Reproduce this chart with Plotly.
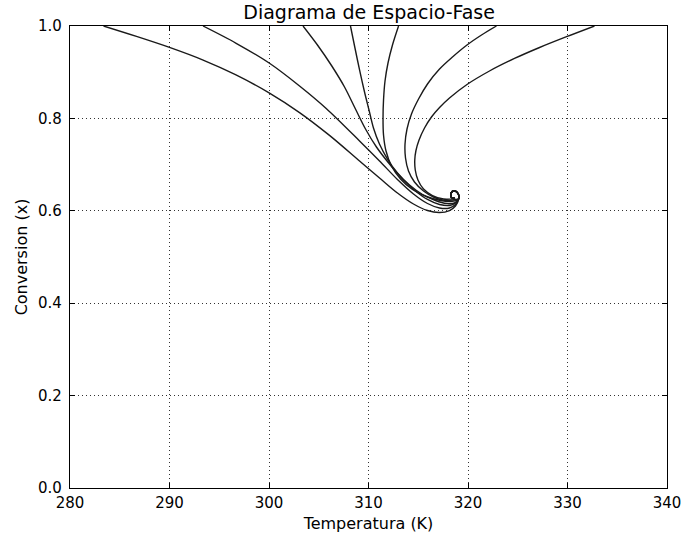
import plotly.graph_objects as go

# Phase-space trajectories: reactor temperature (K) vs. conversion x,
# one trajectory per initial temperature, all spiralling into the same steady state.
temp_1 = [283.37, 286.68, 290.00, 293.32, 296.63, 300.05, 303.07, 306.08, 309.10, 311.11,
          312.91, 314.52, 315.93, 317.14, 318.14, 318.74]
conv_1 = [1.0, 0.9775, 0.9537, 0.9268, 0.8946, 0.8548, 0.8126, 0.7632, 0.7078, 0.6710,
          0.6385, 0.6147, 0.6006, 0.5963, 0.6006, 0.6104]

temp_2 = [293.37, 296.70, 300.05, 303.07, 305.75, 309.10, 311.11, 312.91, 314.52, 315.93,
          317.14, 318.14, 318.74]
conv_2 = [1.0, 0.9626, 0.9193, 0.8701, 0.8214, 0.7511, 0.7078, 0.6677, 0.6364, 0.6158,
          0.6061, 0.6061, 0.6136]

temp_3 = [303.42, 304.87, 306.28, 307.59, 308.69, 309.70, 310.80, 312.11, 313.42, 314.72,
          315.93, 317.14, 318.14, 318.74]
conv_3 = [1.0, 0.9589, 0.9145, 0.8680, 0.8203, 0.7771, 0.7381, 0.7013, 0.6688, 0.6429,
          0.6245, 0.6136, 0.6115, 0.6169]

temp_4 = [308.19, 308.64, 309.10, 309.60, 310.05, 310.50, 311.10, 311.91, 312.91, 314.12,
          315.43, 316.73, 317.84, 318.64]
conv_4 = [1.0, 0.9524, 0.9048, 0.8571, 0.8182, 0.7792, 0.7446, 0.7121, 0.6818, 0.6558,
          0.6353, 0.6223, 0.6158, 0.6169]

temp_5 = [313.02, 312.41, 311.96, 311.66, 311.51, 311.46, 311.51, 311.76, 312.31, 313.22,
          314.42, 315.83, 317.24, 318.24]
conv_5 = [1.0, 0.9589, 0.9199, 0.8810, 0.8398, 0.8009, 0.7641, 0.7294, 0.6970, 0.6688,
          0.6461, 0.6310, 0.6223, 0.6201]

temp_6 = [322.86, 321.36, 319.90, 318.44, 317.14, 315.93, 315.03, 314.32, 313.87, 313.67,
          313.72, 314.02, 314.62, 315.53, 316.63, 317.74, 318.54]
conv_6 = [1.0, 0.9805, 0.9589, 0.9329, 0.9069, 0.8745, 0.8420, 0.8095, 0.7771, 0.7446,
          0.7143, 0.6861, 0.6623, 0.6429, 0.6288, 0.6223, 0.6234]

temp_7 = [332.71, 329.90, 327.19, 324.67, 322.16, 319.90, 318.14, 317.14, 316.33, 315.63,
          315.08, 314.77, 314.65, 314.70, 314.97, 315.53, 316.43, 317.54, 318.44]
conv_7 = [1.0, 0.9768, 0.9535, 0.9297, 0.9026, 0.8734, 0.8442, 0.8236, 0.8030, 0.7792,
          0.7532, 0.7305, 0.7100, 0.6883, 0.6667, 0.6472, 0.6331, 0.6255, 0.6255]

# Final curl shared by every trajectory around the steady state
hook_temp = [319.05, 319.00, 318.64, 318.29, 318.34, 318.64]
hook_conv = [0.6255, 0.6374, 0.6429, 0.6385, 0.6288, 0.6277]

trajectories = [
    (temp_1, conv_1), (temp_2, conv_2), (temp_3, conv_3), (temp_4, conv_4),
    (temp_5, conv_5), (temp_6, conv_6), (temp_7, conv_7),
]

x_ticks = [280, 290, 300, 310, 320, 330, 340]
y_ticks = [0.0, 0.2, 0.4, 0.6, 0.8, 1.0]

fig = go.Figure()
for temps, convs in trajectories:
    fig.add_trace(go.Scatter(
        x=temps + hook_temp, y=convs + hook_conv, mode="lines",
        line=dict(color="#1a1a1a", width=1.4, shape="spline", smoothing=0.9),
        showlegend=False, hoverinfo="skip",
    ))

font_family = "DejaVu Sans, Bitstream Vera Sans, sans-serif"
axis_common = dict(
    showline=True, linecolor="black", linewidth=1.3, mirror="ticks",
    ticks="inside", ticklen=5, tickcolor="black", tickwidth=1,
    showgrid=True, gridcolor="#333333", gridwidth=1, griddash="1px,3px",
    zeroline=False, automargin=False, ticklabeloverflow="allow",
    tickfont=dict(family=font_family, size=15, color="black"),
)

fig.update_layout(
    width=681, height=540,
    margin=dict(l=70, r=14, t=26, b=52),
    paper_bgcolor="white", plot_bgcolor="white",
    title=dict(text="Diagrama de Espacio-Fase", x=0.542, xanchor="center",
               y=0.978, yanchor="middle",
               font=dict(family=font_family, size=19, color="black")),
    xaxis=dict(range=[280, 340], tickvals=x_ticks, ticktext=[str(v) for v in x_ticks],
               ticklabelstandoff=1,
               title=dict(text="Temperatura (K)", standoff=6,
                          font=dict(family=font_family, size=16, color="black")),
               **axis_common),
    yaxis=dict(range=[0, 1.0], tickvals=y_ticks, ticktext=[f"{v:.1f}" for v in y_ticks],
               ticklabelstandoff=4,
               title=dict(text="Conversion (x)", standoff=6,
                          font=dict(family=font_family, size=16, color="black")),
               **axis_common),
)

fig.write_html("out.html")
